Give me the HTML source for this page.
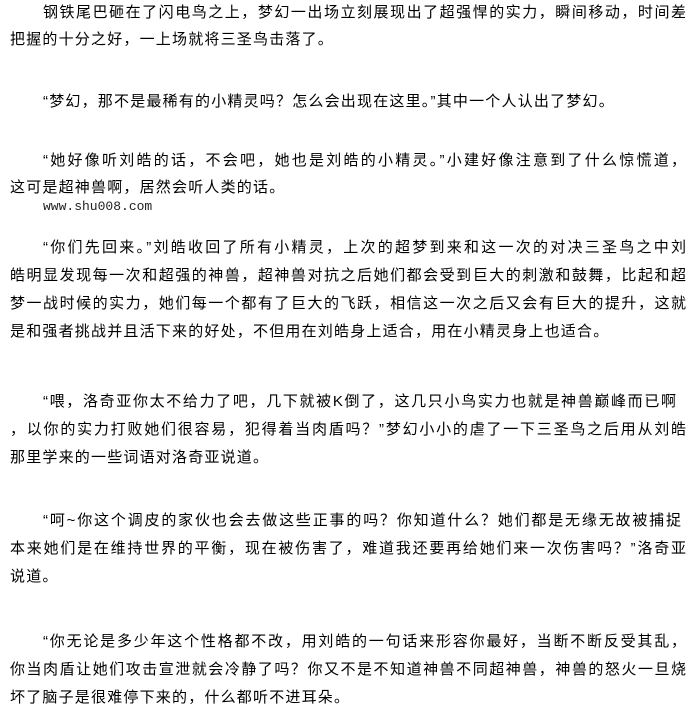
<!DOCTYPE html>
<html><head><meta charset="utf-8"><style>
html,body{margin:0;padding:0;background:#fff;}
body{width:690px;height:715px;position:relative;overflow:hidden;font-family:"Liberation Sans","Noto Sans CJK SC","WenQuanYi Zen Hei",sans-serif;font-size:15px;color:#000;}
.l{position:absolute;height:20px;line-height:20px;white-space:nowrap;letter-spacing:1.2px;}
.f{text-align:justify;text-align-last:justify;letter-spacing:0;white-space:normal;overflow:hidden;}
.i{left:43px;}
.n{left:10px;}
.fi{left:43px;width:643px;}
.fn{left:10px;width:676px;}
.url{position:absolute;left:43px;top:200px;font-family:"Liberation Mono",monospace;font-size:13px;color:#222;line-height:14px;}
</style></head><body>
<div class="l f fi" style="top:3px">钢铁尾巴砸在了闪电鸟之上，梦幻一出场立刻展现出了超强悍的实力，瞬间移动，时间差</div>
<div class="l n" style="top:30px">把握的十分之好，一上场就将三圣鸟击落了。</div>
<div class="l i" style="top:92px">“梦幻，那不是最稀有的小精灵吗？怎么会出现在这里。”其中一个人认出了梦幻。</div>
<div class="l f fi" style="top:151px">“她好像听刘皓的话，不会吧，她也是刘皓的小精灵。”小建好像注意到了什么惊慌道，</div>
<div class="l n" style="top:178px">这可是超神兽啊，居然会听人类的话。</div>
<div class="url">www.shu008.com</div>
<div class="l f fi" style="top:238px">“你们先回来。”刘皓收回了所有小精灵，上次的超梦到来和这一次的对决三圣鸟之中刘</div>
<div class="l f fn" style="top:266px">皓明显发现每一次和超强的神兽，超神兽对抗之后她们都会受到巨大的刺激和鼓舞，比起和超</div>
<div class="l f fn" style="top:294px">梦一战时候的实力，她们每一个都有了巨大的飞跃，相信这一次之后又会有巨大的提升，这就</div>
<div class="l n" style="top:322px">是和强者挑战并且活下来的好处，不但用在刘皓身上适合，用在小精灵身上也适合。</div>
<div class="l f" style="top:392px;left:43px;width:633px">“喂，洛奇亚你太不给力了吧，几下就被K倒了，这几只小鸟实力也就是神兽巅峰而已啊</div>
<div class="l f fn" style="top:420px">，以你的实力打败她们很容易，犯得着当肉盾吗？”梦幻小小的虐了一下三圣鸟之后用从刘皓</div>
<div class="l n" style="top:448px">那里学来的一些词语对洛奇亚说道。</div>
<div class="l f" style="top:511px;left:43px;width:638px">“呵~你这个调皮的家伙也会去做这些正事的吗？你知道什么？她们都是无缘无故被捕捉</div>
<div class="l f fn" style="top:539px">本来她们是在维持世界的平衡，现在被伤害了，难道我还要再给她们来一次伤害吗？”洛奇亚</div>
<div class="l n" style="top:567px">说道。</div>
<div class="l f fi" style="top:632px">“你无论是多少年这个性格都不改，用刘皓的一句话来形容你最好，当断不断反受其乱，</div>
<div class="l f fn" style="top:660px">你当肉盾让她们攻击宣泄就会冷静了吗？你又不是不知道神兽不同超神兽，神兽的怒火一旦烧</div>
<div class="l n" style="top:688px">坏了脑子是很难停下来的，什么都听不进耳朵。</div>
</body></html>
